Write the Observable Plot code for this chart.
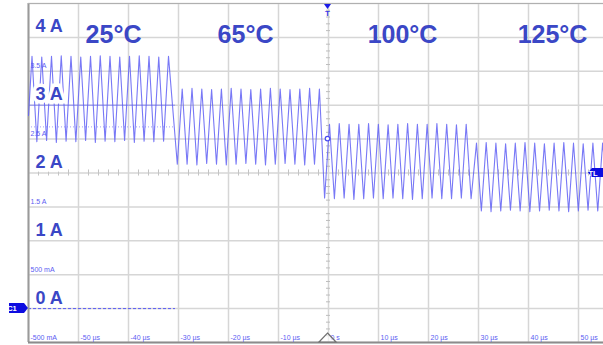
<!DOCTYPE html>
<html>
<head>
<meta charset="utf-8">
<script src="https://cdn.jsdelivr.net/npm/d3@7"></script>
<script src="https://cdn.jsdelivr.net/npm/@observablehq/plot@0.6"></script>
<style>
  html, body { margin: 0; padding: 0; background: #fff; }
  #chart svg { display: block; }
</style>
</head>
<body>
<div id="chart"></div>
<script>
// ---- Data ----
// Inductor current vertices [time µs, current A] for each temperature step
const seg25C = [
  [-60.00, 2.85], [-59.30, 3.72], [-58.33, 2.46], [-57.35, 3.71], [-56.38, 2.48],
  [-55.40, 3.72], [-54.43, 2.45], [-53.45, 3.73], [-52.48, 2.47], [-51.50, 3.72],
  [-50.53, 2.46], [-49.55, 3.71], [-48.58, 2.48], [-47.60, 3.72], [-46.63, 2.45],
  [-45.65, 3.73], [-44.68, 2.47], [-43.70, 3.72], [-42.73, 2.46], [-41.75, 3.71],
  [-40.78, 2.48], [-39.80, 3.72], [-38.83, 2.45], [-37.85, 3.73], [-36.88, 2.47],
  [-35.90, 3.72], [-34.93, 2.46], [-33.95, 3.71], [-32.98, 2.47], [-32.00, 3.72]
];
const seg65C = [
  [-30.24, 2.13], [-29.26, 3.24], [-28.28, 2.13], [-27.30, 3.25], [-26.32, 2.12],
  [-25.34, 3.24], [-24.36, 2.14], [-23.38, 3.23], [-22.40, 2.13], [-21.42, 3.24],
  [-20.44, 2.12], [-19.46, 3.25], [-18.48, 2.13], [-17.50, 3.24], [-16.52, 2.14],
  [-15.54, 3.23], [-14.56, 2.13], [-13.58, 3.24], [-12.60, 2.12], [-11.62, 3.25],
  [-10.64, 2.13], [-9.66, 3.24], [-8.68, 2.14], [-7.70, 3.23], [-6.72, 2.13],
  [-5.74, 3.24], [-4.76, 2.12], [-3.78, 3.25], [-2.80, 2.13], [-1.82, 3.24]
];
const seg100C = [
  [-0.78, 1.63], [0.20, 2.72], [1.18, 1.62], [2.15, 2.73], [3.13, 1.63],
  [4.11, 2.72], [5.08, 1.61], [6.06, 2.72], [7.04, 1.62], [8.01, 2.73],
  [8.99, 1.63], [9.97, 2.72], [10.94, 1.62], [11.92, 2.71], [12.90, 1.63],
  [13.87, 2.72], [14.85, 1.62], [15.82, 2.73], [16.80, 1.61], [17.78, 2.72],
  [18.75, 1.62], [19.73, 2.72], [20.71, 1.63], [21.68, 2.73], [22.66, 1.62],
  [23.64, 2.72], [24.61, 1.62], [25.59, 2.71], [26.57, 1.63], [27.54, 2.72],
  [28.52, 1.62]
];
const seg125C = [
  [29.60, 2.44], [30.57, 1.44], [31.54, 2.45], [32.51, 1.43], [33.48, 2.44],
  [34.45, 1.44], [35.42, 2.43], [36.39, 1.45], [37.36, 2.44], [38.33, 1.44],
  [39.30, 2.45], [40.27, 1.43], [41.24, 2.44], [42.21, 1.44], [43.18, 2.43],
  [44.15, 1.45], [45.12, 2.44], [46.09, 1.44], [47.06, 2.45], [48.03, 1.43],
  [49.00, 2.44], [49.97, 1.44], [50.94, 2.43], [51.91, 1.45], [52.88, 2.44],
  [53.85, 1.44], [54.82, 2.44], [55.50, 1.95]
];

const tempLabels = ["25°C", "65°C", "100°C", "125°C"];
const tempLabelTimes = [-43, -16.6, 14.8, 44.8];
const bigCurrentLabels = ["4 A", "3 A", "2 A", "1 A", "0 A"];
const bigCurrentValues = [4, 3, 2, 1, 0];
const smallCurrentLabels = ["3.5 A", "2.5 A", "1.5 A", "500 mA", "-500 mA"];
const smallCurrentValues = [3.5, 2.5, 1.5, 0.5, -0.5];
const timeTickValues = [-50, -40, -30, -20, -10, 0, 10, 20, 30, 40, 50];
const timeTickLabels = ["-50 µs", "-40 µs", "-30 µs", "-20 µs", "-10 µs", "0 s",
                        "10 µs", "20 µs", "30 µs", "40 µs", "50 µs"];
const gridTimes = [-60, -50, -40, -30, -20, -10, 0, 10, 20, 30, 40, 50, 60];
const gridCurrents = [-0.5, 0, 0.5, 1, 1.5, 2, 2.5, 3, 3.5, 4, 4.5];
const refLevelsSeg1 = [{y: 3.0, style: "solid"}, {y: 2.68, style: "dot"}, {y: 0, style: "dash"}];

// ---- Build ----
const wave = [...seg25C, ...seg65C, ...seg100C, ...seg125C].map(([t, i]) => ({t, i}));
const minorT = d3.range(-60, 61, 2).filter(v => v % 10 !== 0);
const minorI = d3.range(-0.5, 4.51, 0.1).map(v => +v.toFixed(2)).filter(v => Math.abs(v * 2 - Math.round(v * 2)) > 1e-6);

const BLUE = "#3b47c6";
const SMALL = "#5c5cf2";
const FONT = "'Liberation Sans', Arial, Helvetica, sans-serif";

const chart = Plot.plot({
  width: 603,
  height: 345,
  marginLeft: 28,
  marginRight: 0,
  marginTop: 3,
  marginBottom: 3,
  style: {background: "#fff", fontFamily: FONT},
  x: {domain: [-60, 55], axis: null},
  y: {domain: [-0.5, 4.5], axis: null},
  marks: [
    // grid
    Plot.ruleX(gridTimes.filter(d => d <= 55), {x: d => d, stroke: "#d6d6d6", strokeWidth: 1.5}),
    Plot.ruleY(gridCurrents, {y: d => d, stroke: "#d6d6d6", strokeWidth: 1.5}),
    // minor ticks on centre axes
    Plot.ruleX(minorT, {x: d => d, y1: 1.955, y2: 2.045, stroke: "#c4c4c4", strokeWidth: 1}),
    Plot.ruleY(minorI, {y: d => d, x1: -0.4, x2: 0.4, stroke: "#bdbdbd", strokeWidth: 1}),
    // reference lines over first segment
    Plot.ruleY([refLevelsSeg1[0]], {y: "y", x1: -60, x2: -30.6, stroke: "#8f8ff5", strokeWidth: 1}),
    Plot.ruleY([refLevelsSeg1[1]], {y: "y", x1: -60, x2: -30.6, stroke: "#a0a0f8", strokeWidth: 1, strokeDasharray: "1,2"}),
    Plot.ruleY([refLevelsSeg1[2]], {y: "y", x1: -60, x2: -30.6, stroke: "#5a5af5", strokeWidth: 1, strokeDasharray: "3,2"}),
    // frame borders
    Plot.ruleX([-60], {stroke: "#9a9a9a", strokeWidth: 2}),
    Plot.ruleY([-0.5], {stroke: "#8c8c8c", strokeWidth: 2}),
    Plot.ruleY([4.5], {stroke: "#b0b0b0", strokeWidth: 1}),
    // waveform
    Plot.line(wave, {x: "t", y: "i", stroke: "#6060f4", strokeWidth: 1.1, strokeOpacity: 0.85, clip: true}),
    // small scale labels
    Plot.text(smallCurrentLabels, {x: -60, y: (d, i) => smallCurrentValues[i], text: d => d,
      textAnchor: "start", lineAnchor: "bottom", dx: 2, dy: -3, fontSize: 7, fill: SMALL}),
    Plot.text(timeTickLabels, {x: (d, i) => timeTickValues[i], y: -0.5, text: d => d,
      textAnchor: "start", lineAnchor: "bottom", dx: 2, dy: -3, fontSize: 7, fill: SMALL}),
    // big current labels (on white boxes, like the scope's label overlay)
    Plot.text(bigCurrentLabels, {x: -60, y: (d, i) => bigCurrentValues[i], text: d => d,
      textAnchor: "start", lineAnchor: "bottom", dx: 7, dy: -5, fontSize: 18, fontWeight: "bold",
      fill: BLUE, stroke: "#fff", strokeWidth: 7, strokeLinejoin: "miter"}),
    // temperature labels
    Plot.text(tempLabels, {x: (d, i) => tempLabelTimes[i], y: 3.92, text: d => d,
      textAnchor: "middle", lineAnchor: "bottom", fontSize: 25, fontWeight: "bold", fill: BLUE})
  ]
});

document.getElementById("chart").appendChild(chart);

// ---- Oscilloscope markers placed via the plot's scales ----
const sx = chart.scale("x"), sy = chart.scale("y");
const svg = d3.select(chart);
const g = svg.append("g");
const x0 = sx.apply(0) - 0.5;
const yTop = sy.apply(4.5), yBot = sy.apply(-0.5);

// trigger point
g.append("circle").attr("cx", x0).attr("cy", sy.apply(2.5)).attr("r", 2.3)
  .attr("fill", "#fff").attr("stroke", "#4a4af0").attr("stroke-width", 1.2);

// top trigger position marker
g.append("path").attr("d", `M${x0 - 3.5},${yTop + 1}L${x0 + 3.5},${yTop + 1}L${x0},${yTop + 6}Z`).attr("fill", "#1c1ce8");
g.append("text").attr("x", x0).attr("y", yTop + 13).attr("text-anchor", "middle")
  .attr("font-size", 8).attr("font-weight", "bold").attr("font-family", FONT).attr("fill", "#3a3ae8").text("T");

// bottom reference triangle
g.append("path").attr("d", `M${x0},${yBot - 9}L${x0 + 8.5},${yBot}L${x0 - 8.5},${yBot}Z`)
  .attr("fill", "#fff").attr("fill-opacity", 0.6).attr("stroke", "#707070").attr("stroke-width", 1.2);

// C1 channel marker
const yC1 = sy.apply(0), xL = sx.apply(-60);
g.append("path").attr("d", `M${xL - 19},${yC1 - 5}L${xL - 4},${yC1 - 5}L${xL},${yC1}L${xL - 4},${yC1 + 5}L${xL - 19},${yC1 + 5}Z`)
  .attr("fill", "#0d0de0");
g.append("text").attr("x", xL - 16).attr("y", yC1 + 3).attr("font-size", 7.5).attr("font-weight", "bold")
  .attr("font-family", FONT).attr("fill", "#fff").text("C1");

// TL marker on the right
const yTL = sy.apply(2), xR = 603;
g.append("path").attr("d", `M${xR - 15},${yTL}L${xR - 11},${yTL - 4.5}L${xR},${yTL - 4.5}L${xR},${yTL + 4.5}L${xR - 11},${yTL + 4.5}Z`)
  .attr("fill", "#0d0de0");
g.append("text").attr("x", xR - 10).attr("y", yTL + 3).attr("font-size", 7.5).attr("font-weight", "bold")
  .attr("font-family", FONT).attr("fill", "#fff").text("TL");
</script>
</body>
</html>
